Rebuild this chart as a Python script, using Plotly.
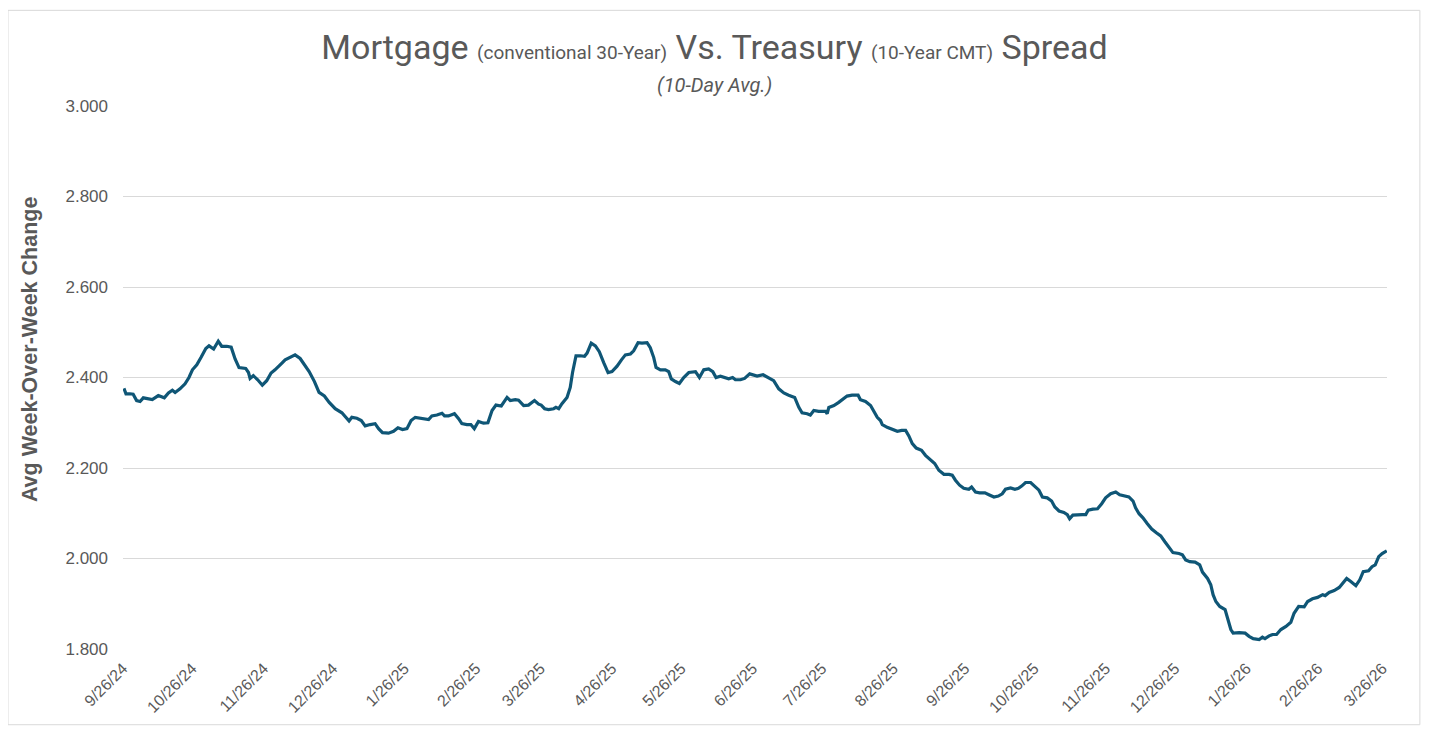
import pandas as pd
import plotly.graph_objects as go

# spread series: day offset from 9/26/24 and 10-day avg value
start_date = "2024-09-26"
day_offsets = [
    0.4, 1.3, 3.0, 4.4, 5.9, 7.4, 8.8, 11.0, 12.7, 15.3, 17.9, 19.7, 21.4, 22.6, 24.7,
    26.9, 28.6, 30.1, 32.0, 33.8, 35.9, 37.3, 39.3, 41.3, 42.8, 45.0, 46.9, 48.6, 50.3,
    53.2, 54.4, 55.1, 56.5, 58.4, 60.4, 62.3, 64.2, 65.9, 67.7, 68.9, 70.3, 72.5, 74.6,
    76.8, 78.7, 80.7, 83.0, 85.0, 87.3, 89.4, 92.0, 94.9, 96.6, 98.0, 99.2, 101.4, 103.3,
    105.0, 107.2, 109.3, 110.8, 112.5, 115.1, 117.3, 119.2, 121.2, 123.1, 124.9, 126.7,
    128.9, 131.0, 132.5, 133.9, 136.1, 138.3, 139.4, 141.1, 143.7, 145.5, 146.9, 149.1,
    150.8, 152.3, 154.1, 156.3, 158.2, 160.0, 161.7, 164.0, 166.5, 167.9, 170.1, 171.5,
    173.7, 175.8, 178.4, 180.2, 181.3, 182.8, 184.5, 186.7, 187.7, 188.9, 190.3, 192.5,
    193.9, 194.9, 196.4, 198.3, 200.1, 201.2, 203.0, 204.8, 206.5, 208.4, 210.3, 212.0,
    214.2, 216.1, 217.8, 220.0, 221.4, 223.3, 225.0, 227.2, 228.6, 230.1, 231.1, 233.0,
    235.1, 236.6, 237.7, 239.5, 241.2, 243.1, 245.3, 248.2, 249.9, 251.8, 253.9, 255.7,
    257.1, 259.0, 261.2, 262.6, 264.3, 265.5, 267.7, 269.5, 271.7, 274.9, 277.5, 280.7,
    282.1, 284.3, 286.5, 288.6, 291.2, 293.0, 294.4, 296.6, 298.0, 299.5, 301.6, 304.6,
    305.3, 306.0, 308.2, 310.3, 312.1, 313.9, 316.1, 318.7, 319.7, 321.9, 324.1, 325.5,
    327.0, 328.4, 329.2, 331.3, 332.8, 334.2, 335.7, 337.6, 339.3, 340.7, 342.2, 343.9,
    346.2, 347.9, 350.1, 351.9, 353.7, 355.9, 358.1, 359.5, 360.9, 362.7, 364.5, 366.7,
    367.9, 369.6, 371.4, 373.7, 375.4, 377.6, 379.5, 381.2, 382.6, 384.8, 386.7, 388.2,
    389.6, 391.3, 393.5, 395.4, 397.1, 398.6, 400.7, 402.6, 404.0, 405.8, 407.9, 409.4,
    410.4, 411.8, 413.7, 415.9, 417.4, 418.5, 420.5, 422.5, 424.3, 426.0, 428.2, 430.4,
    432.1, 434.0, 436.1, 437.9, 439.0, 440.5, 442.2, 444.1, 446.0, 448.0, 449.9, 451.7,
    453.5, 455.2, 457.8, 459.3, 460.7, 462.5, 464.8, 466.8, 468.0, 470.2, 471.6, 472.6,
    473.8, 475.5, 477.8, 479.3, 480.3, 481.3, 483.9, 486.5, 488.2, 490.0, 492.6, 494.0,
    495.1, 496.9, 498.4, 500.1, 502.0, 504.2, 506.3, 507.7, 509.7, 512.1, 513.6, 515.7,
    517.9, 520.1, 521.2, 522.9, 525.1, 527.3, 528.7, 530.5, 532.3, 534.5, 536.2, 537.7,
    540.0, 541.5, 542.9, 544.4, 545.9, 547.9,
]
spread = [
    2.376, 2.364, 2.364, 2.363, 2.349, 2.347, 2.355, 2.353, 2.351, 2.360, 2.355, 2.366, 2.372, 2.367, 2.375,
    2.386, 2.400, 2.417, 2.428, 2.444, 2.464, 2.470, 2.463, 2.480, 2.469, 2.469, 2.467, 2.441, 2.422,
    2.420, 2.411, 2.398, 2.404, 2.395, 2.383, 2.393, 2.410, 2.417, 2.425, 2.432, 2.439, 2.444, 2.450,
    2.442, 2.428, 2.413, 2.391, 2.367, 2.359, 2.345, 2.331, 2.322, 2.312, 2.304, 2.312, 2.310, 2.305,
    2.293, 2.296, 2.298, 2.287, 2.278, 2.277, 2.281, 2.289, 2.285, 2.287, 2.305, 2.312,
    2.310, 2.309, 2.307, 2.315, 2.317, 2.321, 2.315, 2.315, 2.320, 2.309, 2.298, 2.296,
    2.296, 2.287, 2.303, 2.299, 2.300, 2.327, 2.339, 2.337, 2.356, 2.349, 2.351, 2.350,
    2.338, 2.339, 2.349, 2.341, 2.339, 2.331, 2.329, 2.331, 2.334, 2.331, 2.342, 2.356,
    2.378, 2.411, 2.448, 2.448, 2.447, 2.454, 2.476, 2.470, 2.457, 2.433, 2.411, 2.413,
    2.425, 2.439, 2.450, 2.452, 2.459, 2.477, 2.476, 2.477, 2.466, 2.444, 2.422, 2.417,
    2.417, 2.413, 2.397, 2.391, 2.387, 2.400, 2.411, 2.413, 2.400, 2.417, 2.419, 2.413,
    2.400, 2.403, 2.400, 2.397, 2.400, 2.395, 2.395, 2.398, 2.408, 2.403, 2.406, 2.397,
    2.393, 2.375, 2.366, 2.361, 2.356, 2.334, 2.322, 2.320, 2.317, 2.327, 2.325, 2.325,
    2.320, 2.334, 2.338, 2.345, 2.353, 2.359, 2.361, 2.361, 2.351, 2.347, 2.338, 2.327,
    2.312, 2.305, 2.296, 2.290, 2.287, 2.283, 2.281, 2.283, 2.283, 2.271, 2.254, 2.244,
    2.239, 2.228, 2.219, 2.210, 2.195, 2.186, 2.186, 2.184, 2.173, 2.162, 2.155, 2.153,
    2.158, 2.147, 2.145, 2.145, 2.141, 2.136, 2.138, 2.143, 2.153, 2.156, 2.153, 2.155,
    2.160, 2.168, 2.168, 2.160, 2.151, 2.136, 2.134, 2.127, 2.114, 2.105, 2.102, 2.097,
    2.088, 2.096, 2.097, 2.097, 2.097, 2.107, 2.109, 2.110, 2.121, 2.134, 2.143, 2.147,
    2.141, 2.138, 2.136, 2.127, 2.112, 2.099, 2.090, 2.077, 2.065, 2.057, 2.050, 2.037,
    2.024, 2.013, 2.011, 2.008, 1.997, 1.993, 1.992, 1.986, 1.970, 1.956, 1.942, 1.920,
    1.905, 1.894, 1.887, 1.862, 1.843, 1.835, 1.836, 1.835, 1.828, 1.823, 1.821, 1.826,
    1.823, 1.829, 1.832, 1.832, 1.843, 1.850, 1.859, 1.879, 1.894, 1.893, 1.905, 1.911,
    1.914, 1.920, 1.918, 1.925, 1.929, 1.936, 1.945, 1.956, 1.949, 1.940, 1.953, 1.971,
    1.973, 1.982, 1.986, 2.004, 2.011, 2.017,
]

tick_dates = [
    "2024-09-26", "2024-10-26", "2024-11-26", "2024-12-26", "2025-01-26", "2025-02-26",
    "2025-03-26", "2025-04-26", "2025-05-26", "2025-06-26", "2025-07-26", "2025-08-26",
    "2025-09-26", "2025-10-26", "2025-11-26", "2025-12-26", "2026-01-26", "2026-02-26",
    "2026-03-26",
]
tick_labels = [
    "9/26/24", "10/26/24", "11/26/24", "12/26/24", "1/26/25", "2/26/25", "3/26/25",
    "4/26/25", "5/26/25", "6/26/25", "7/26/25", "8/26/25", "9/26/25", "10/26/25",
    "11/26/25", "12/26/25", "1/26/26", "2/26/26", "3/26/26",
]

dates = pd.Timestamp(start_date) + pd.to_timedelta(day_offsets, unit="D")

grey = "#595959"
title_font = "Liberation Sans Narrow, Roboto, Liberation Sans, sans-serif"

fig = go.Figure()
fig.add_trace(go.Scatter(
    x=dates,
    y=spread,
    mode="lines",
    line=dict(color="#0F5676", width=3.2),
    showlegend=False,
))

# page body has an 8px margin, so the figure is a bit smaller than the window
fig.update_layout(
    width=1413,
    height=720,
    margin=dict(l=115, r=34, t=98, b=77),
    paper_bgcolor="white",
    plot_bgcolor="white",
    font=dict(family="Liberation Sans, Arial, sans-serif", color=grey),
    title=dict(
        text=("Mortgage <span style='font-size:19px'>(conventional 30-Year)</span> Vs. Treasury "
              "<span style='font-size:19px'>(10-Year CMT)</span> Spread"),
        font=dict(family=title_font, size=34, color=grey),
        x=0.5, xref="container", xanchor="center",
        y=(720 - 39) / 720, yref="container", yanchor="middle",
    ),
    xaxis=dict(
        type="date",
        range=[pd.Timestamp(start_date), pd.Timestamp(start_date) + pd.Timedelta(days=548)],
        tickvals=pd.to_datetime(tick_dates),
        ticktext=tick_labels,
        tickangle=-45,
        tickfont=dict(size=16, color=grey),
        ticklabelstandoff=6,
        showgrid=False,
        zeroline=False,
        showline=False,
        ticks="",
    ),
    yaxis=dict(
        range=[1.8, 3.0],
        dtick=0.2,
        tickformat=".3f",
        tickfont=dict(size=17, color=grey),
        gridcolor="#D9D9D9",
        gridwidth=1,
        zeroline=False,
        showline=False,
        ticks="",
        ticklabelstandoff=14,
    ),
)

fig.add_annotation(
    text="<b>Avg Week-Over-Week Change</b>",
    xref="paper", yref="paper",
    x=(22 - 115) / 1264, y=(643 - 342) / 545,
    xanchor="center", yanchor="middle",
    textangle=-90,
    showarrow=False,
    font=dict(size=21.5, color=grey),
)

fig.add_annotation(
    text="<i>(10-Day Avg.)</i>",
    xref="paper", yref="paper",
    x=(706 - 115) / 1264, y=(643 - 77) / 545,
    xanchor="center", yanchor="middle",
    showarrow=False,
    font=dict(family=title_font, size=20, color=grey),
)

# light frame round the whole chart area
fig.add_shape(
    type="rect", xref="paper", yref="paper",
    x0=-0.091, x1=1.026, y0=(643 - 719) / 545, y1=(643 - 2) / 545,
    line=dict(color="#D9D9D9", width=1),
    fillcolor="rgba(0,0,0,0)",
    layer="below",
)

fig.write_html("out.html")
